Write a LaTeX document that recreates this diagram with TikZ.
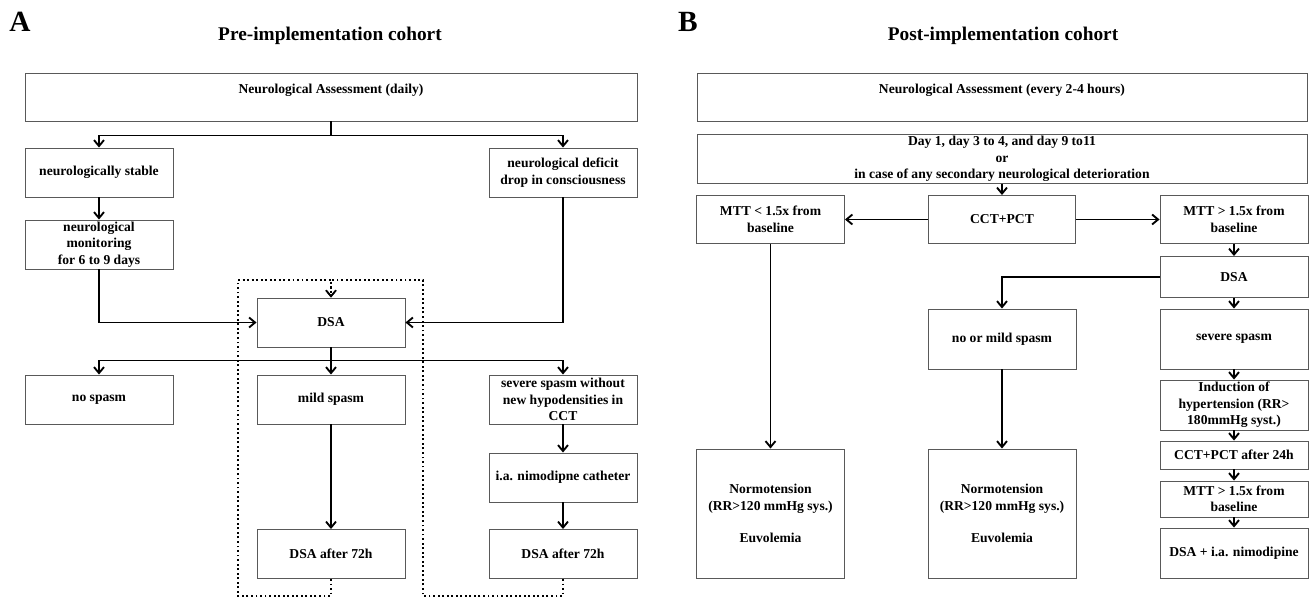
\documentclass[tikz,border=0pt]{standalone}
\usepackage{fontspec}
\setmainfont{Liberation Serif}
\usetikzlibrary{arrows.meta}

\tikzset{
  box/.style={draw=black!65, line width=0.7pt, minimum width=111pt, minimum height=36.75pt,
    align=center, inner sep=1pt, font=\fontsize{10.2}{12.4}\selectfont\bfseries},
  arr/.style={-{Straight Barb[length=4.5pt,width=7.5pt]}, line width=1.4pt},
  loopline/.style={arr, dotted, line width=1.2pt},
  heading/.style={font=\fontsize{14.5}{17}\selectfont\bfseries},
  panel/.style={font=\fontsize{22}{24}\selectfont\bfseries}
}

\begin{document}
\begin{tikzpicture}[x=0.75pt, y=-0.75pt]
\useasboundingbox (0,0) rectangle (1310,598);

% panel A
\node[panel] (labelA) at (20,22) {A};
\node[heading] (titleA) at (330,36) {Pre-implementation cohort};

\node[box, minimum width=459pt, minimum height=36pt] (assessA) at (331,97) {Neurological Assessment (daily)\\ \mbox{}};
\node[box] (stableA) at (99,172.5) {neurologically stable};
\node[box] (deficitA) at (563,172.5) {neurological deficit\\drop in consciousness};
\node[box] (monitorA) at (99,244.5) {neurological\\monitoring\\for 6 to 9 days};
\node[box] (dsaA) at (331,322.5) {DSA};
\node[box] (nospasmA) at (99,399.5) {no spasm};
\node[box] (mildA) at (331,399.5) {mild spasm};
\node[box] (severeA) at (563,399.5) {severe spasm without\\new hypodensities in\\CCT};
\node[box] (catheterA) at (563,477.5) {i.a. nimodipne catheter};
\node[box] (repeatA) at (331,554) {DSA after 72h};
\node[box] (repeatbA) at (563,554) {DSA after 72h};

\draw[arr] (assessA.south) -- ++(0,14) -| (stableA.north);
\draw[arr] (assessA.south) -- ++(0,14) -| (deficitA.north);
\draw[arr] (stableA) -- (monitorA);
\draw[arr] (monitorA.south) |- (dsaA.west);
\draw[arr] (deficitA.south) |- (dsaA.east);
\draw[arr] (dsaA.south) -- ++(0,13) -| (nospasmA.north);
\draw[arr] (dsaA.south) -- ++(0,13) -| (severeA.north);
\draw[arr] (dsaA) -- (mildA);
\draw[arr] (mildA) -- (repeatA);
\draw[arr] (severeA) -- (catheterA);
\draw[arr] (catheterA) -- (repeatbA);

% loops back to DSA
\coordinate (loopL) at (238,280);
\coordinate (loopR) at (423,280);
\draw[loopline] (repeatA.south) |- (238,596) -- (loopL) -| (dsaA.north);
\draw[loopline] (repeatbA.south) |- (423,596) -- (loopR) -| (dsaA.north);

% panel B
\node[panel] (labelB) at (688,22) {B};
\node[heading] (titleB) at (1003,36) {Post-implementation cohort};

\node[box, minimum width=457.5pt, minimum height=36pt] (assessB) at (1002,97) {Neurological Assessment (every 2-4 hours)\\ \mbox{}};
\node[box, minimum width=457.5pt, minimum height=36pt] (dayB) at (1002,159) {Day 1, day 3 to 4, and day 9 to11\\or\\in case of any secondary neurological deterioration};
\node[box, minimum width=110.25pt, minimum height=36pt] (cctB) at (1002,219.5) {CCT+PCT};
\node[box, minimum height=36pt] (mttlowB) at (770.5,219.5) {MTT < 1.5x from\\baseline};
\node[box, minimum height=36pt] (mtthighB) at (1234,219.5) {MTT > 1.5x from\\baseline};
\node[box, minimum height=30.75pt] (dsaB) at (1234,277) {DSA};
\node[box, minimum height=45pt] (mildB) at (1002,339) {no or mild spasm};
\node[box, minimum height=45pt] (severeB) at (1234,339) {severe spasm};
\node[box, minimum height=37.5pt] (inductB) at (1234,405) {Induction of\\hypertension (RR>\\180mmHg syst.)};
\node[box, minimum height=21pt] (recheckB) at (1234,455) {CCT+PCT after 24h};
\node[box, minimum height=27pt] (mttagainB) at (1234,499) {MTT > 1.5x from\\baseline};
\node[box, minimum height=37.5pt] (nimoB) at (1234,553) {DSA + i.a. nimodipine};
\node[box, minimum height=96.75pt] (normoLB) at (770.5,513.5) {Normotension\\(RR>120 mmHg sys.)\\[12pt]Euvolemia};
\node[box, minimum height=96.75pt] (normoMB) at (1002,513.5) {Normotension\\(RR>120 mmHg sys.)\\[12pt]Euvolemia};

\draw[arr] (dayB) -- (cctB);
\draw[arr] (cctB) -- (mttlowB);
\draw[arr] (cctB) -- (mtthighB);
\draw[arr] (mtthighB) -- (dsaB);
\draw[arr] (dsaB.west) -| (mildB.north);
\draw[arr] (dsaB) -- (severeB);
\draw[arr] (severeB) -- (inductB);
\draw[arr] (inductB) -- (recheckB);
\draw[arr] (recheckB) -- (mttagainB);
\draw[arr] (mttagainB) -- (nimoB);
\draw[arr] (mttlowB) -- (normoLB);
\draw[arr] (mildB) -- (normoMB);

\end{tikzpicture}
\end{document}
